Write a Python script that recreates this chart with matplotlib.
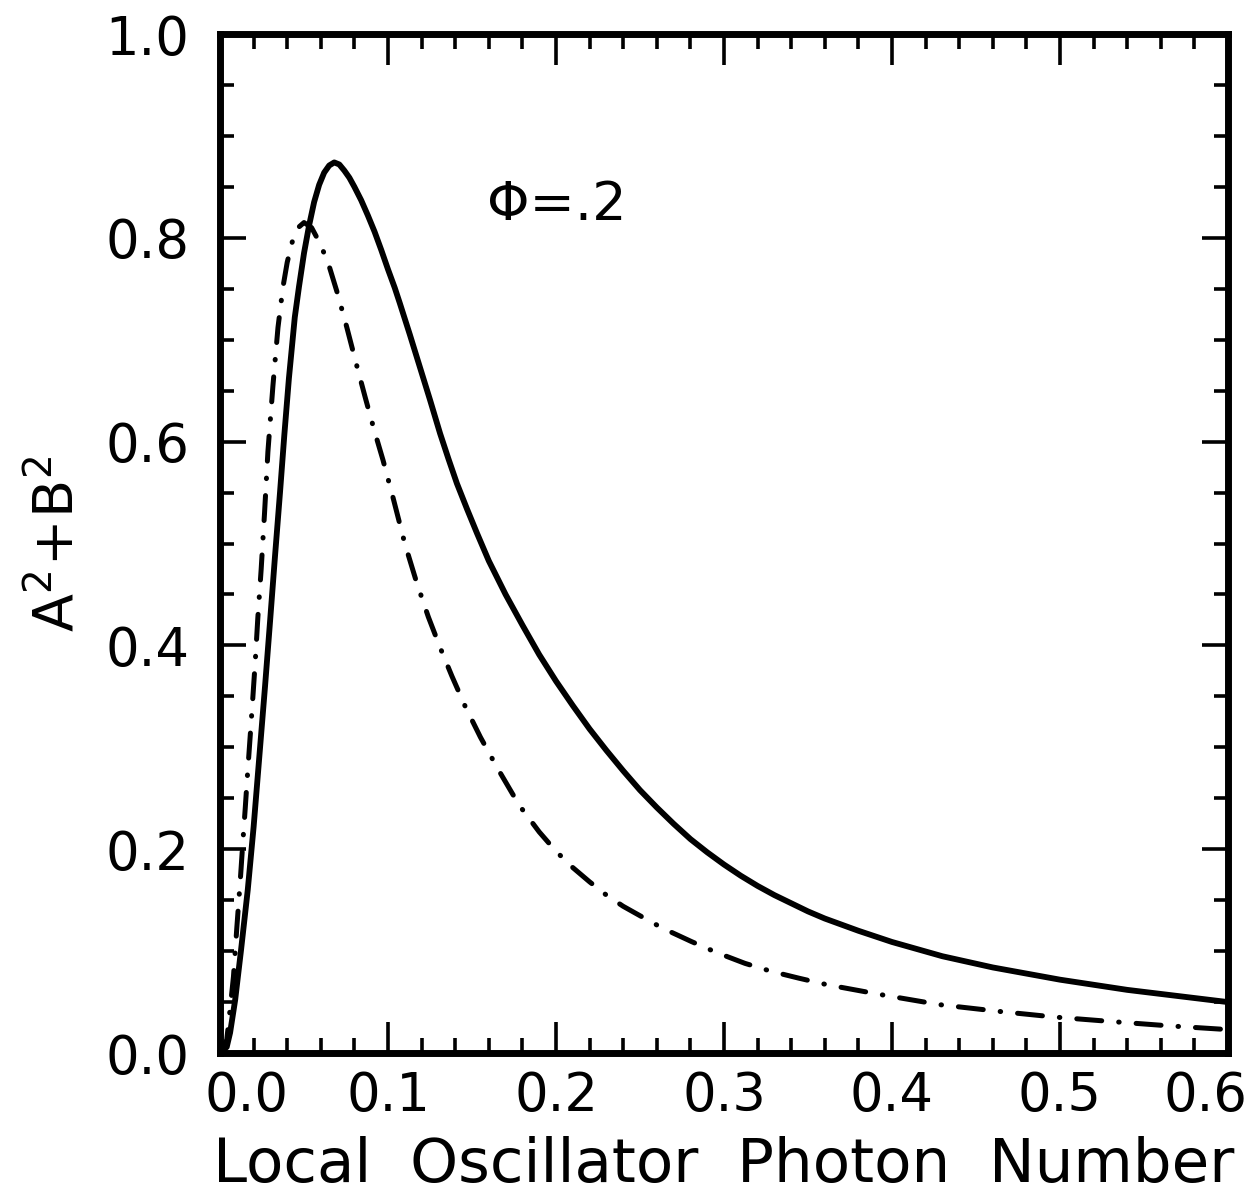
import matplotlib
matplotlib.use("Agg")
import matplotlib.pyplot as plt
import matplotlib.transforms as mtransforms
import numpy as np

# solid curve
solid_x = [0.0, 0.004, 0.006, 0.009, 0.0125, 0.0165, 0.020, 0.0235, 0.0268, 0.0298,
           0.0327, 0.0357, 0.0383, 0.041, 0.0445, 0.047, 0.050, 0.053, 0.056, 0.059,
           0.062, 0.065, 0.068, 0.071, 0.074, 0.077, 0.080, 0.084, 0.088, 0.092,
           0.096, 0.100, 0.104, 0.107, 0.113, 0.119, 0.125, 0.131, 0.136, 0.141,
           0.147, 0.153, 0.16, 0.17, 0.18, 0.19, 0.20, 0.21, 0.22, 0.23,
           0.24, 0.25, 0.26, 0.27, 0.28, 0.29, 0.30, 0.31, 0.32, 0.33,
           0.34, 0.35, 0.36, 0.38, 0.40, 0.43, 0.46, 0.50, 0.54, 0.57, 0.60]
solid_y = [0.0, 0.006, 0.020, 0.052, 0.101, 0.160, 0.222, 0.293, 0.360, 0.424,
           0.487, 0.550, 0.607, 0.662, 0.722, 0.752, 0.785, 0.812, 0.835, 0.852,
           0.864, 0.871, 0.874, 0.872, 0.866, 0.859, 0.850, 0.837, 0.822, 0.806,
           0.788, 0.769, 0.751, 0.736, 0.705, 0.673, 0.641, 0.608, 0.583, 0.559,
           0.534, 0.510, 0.483, 0.450, 0.420, 0.391, 0.365, 0.341, 0.318, 0.297,
           0.277, 0.258, 0.241, 0.225, 0.210, 0.197, 0.185, 0.174, 0.164, 0.155,
           0.147, 0.139, 0.132, 0.120, 0.109, 0.095, 0.084, 0.072, 0.062, 0.056, 0.050]

# dash-dot curve
dd_x = [0.0, 0.004, 0.006, 0.008, 0.010, 0.012, 0.0135, 0.015, 0.0165, 0.018,
        0.0195, 0.021, 0.0225, 0.0245, 0.0265, 0.0285, 0.0315, 0.0345, 0.0375, 0.040,
        0.043, 0.0465, 0.050, 0.0545, 0.060, 0.065, 0.070, 0.0755, 0.081, 0.0865,
        0.092, 0.097, 0.103, 0.110, 0.117, 0.124, 0.131, 0.138, 0.146, 0.155,
        0.165, 0.1746, 0.18, 0.19, 0.20, 0.21, 0.22, 0.23, 0.24, 0.253,
        0.2635, 0.2805, 0.2955, 0.3125, 0.3285, 0.3445, 0.3615, 0.3945, 0.4287, 0.463,
        0.497, 0.530, 0.564, 0.600]
dd_y = [0.0, 0.013, 0.043, 0.075, 0.123, 0.168, 0.205, 0.240, 0.277, 0.312,
        0.348, 0.385, 0.427, 0.475, 0.530, 0.590, 0.655, 0.712, 0.752, 0.776,
        0.796, 0.810, 0.815, 0.810, 0.793, 0.772, 0.745, 0.712, 0.677, 0.643,
        0.610, 0.582, 0.545, 0.500, 0.462, 0.428, 0.398, 0.370, 0.340, 0.310,
        0.280, 0.253, 0.239, 0.217, 0.198, 0.182, 0.168, 0.155, 0.144, 0.132,
        0.1225, 0.1095, 0.0987, 0.088, 0.080, 0.0735, 0.067, 0.057, 0.0474, 0.041,
        0.0353, 0.031, 0.0268, 0.023]

x_ticks = [0.0, 0.1, 0.2, 0.3, 0.4, 0.5, 0.6]
y_ticks = [0.0, 0.2, 0.4, 0.6, 0.8, 1.0]

plt.rcParams['font.family'] = 'DejaVu Sans'
plt.rcParams['mathtext.default'] = 'regular'

fig = plt.figure(figsize=(12.53, 11.98), dpi=100)
ax = fig.add_axes([0.1756, 0.1210, 0.8044, 0.8506])

ax.plot(solid_x, solid_y, color='black', lw=4.2, solid_capstyle='round',
        solid_joinstyle='round')
ax.plot(dd_x, dd_y, color='black', lw=3.6, dash_capstyle='round',
        dashes=(5, 3.4, 0.1, 3.4))

ax.set_xlim(0, 0.6)
ax.set_ylim(0, 1.0)
ax.set_xticks(x_ticks)
ax.set_yticks(y_ticks)
ax.set_xticks(np.arange(0, 0.601, 0.02), minor=True)
ax.set_yticks(np.arange(0, 1.001, 0.05), minor=True)
ax.set_xticklabels([f"{v:.1f}" for v in x_ticks])
ax.set_yticklabels([f"{v:.1f}" for v in y_ticks])

for s in ax.spines.values():
    s.set_linewidth(5)

ax.tick_params(axis='x', which='major', direction='in', top=True, length=22, width=2.6,
               labelsize=38, pad=12)
ax.tick_params(axis='x', which='minor', direction='in', top=True, length=11, width=2.6)
ax.tick_params(axis='y', which='major', direction='in', right=True, length=19, width=2.6,
               labelsize=38, pad=22)
ax.tick_params(axis='y', which='minor', direction='in', right=True, length=10, width=2.6)

# first and last x labels are nudged inward as in the original
xl = ax.get_xticklabels()
xl[0].set_transform(xl[0].get_transform() +
                    mtransforms.ScaledTranslation(26 / 100, 0, fig.dpi_scale_trans))
xl[-1].set_transform(xl[-1].get_transform() +
                     mtransforms.ScaledTranslation(-22 / 100, 0, fig.dpi_scale_trans))

ax.set_xlabel('Local  Oscillator  Photon  Number', fontsize=44, labelpad=10)
ax.set_ylabel(r'$A^2\!+\!B^2$', fontsize=40, labelpad=14)

ax.text(0.159, 0.832, 'Φ=.2', fontsize=39, va='center', ha='left')

fig.savefig('out.png', dpi=100)
